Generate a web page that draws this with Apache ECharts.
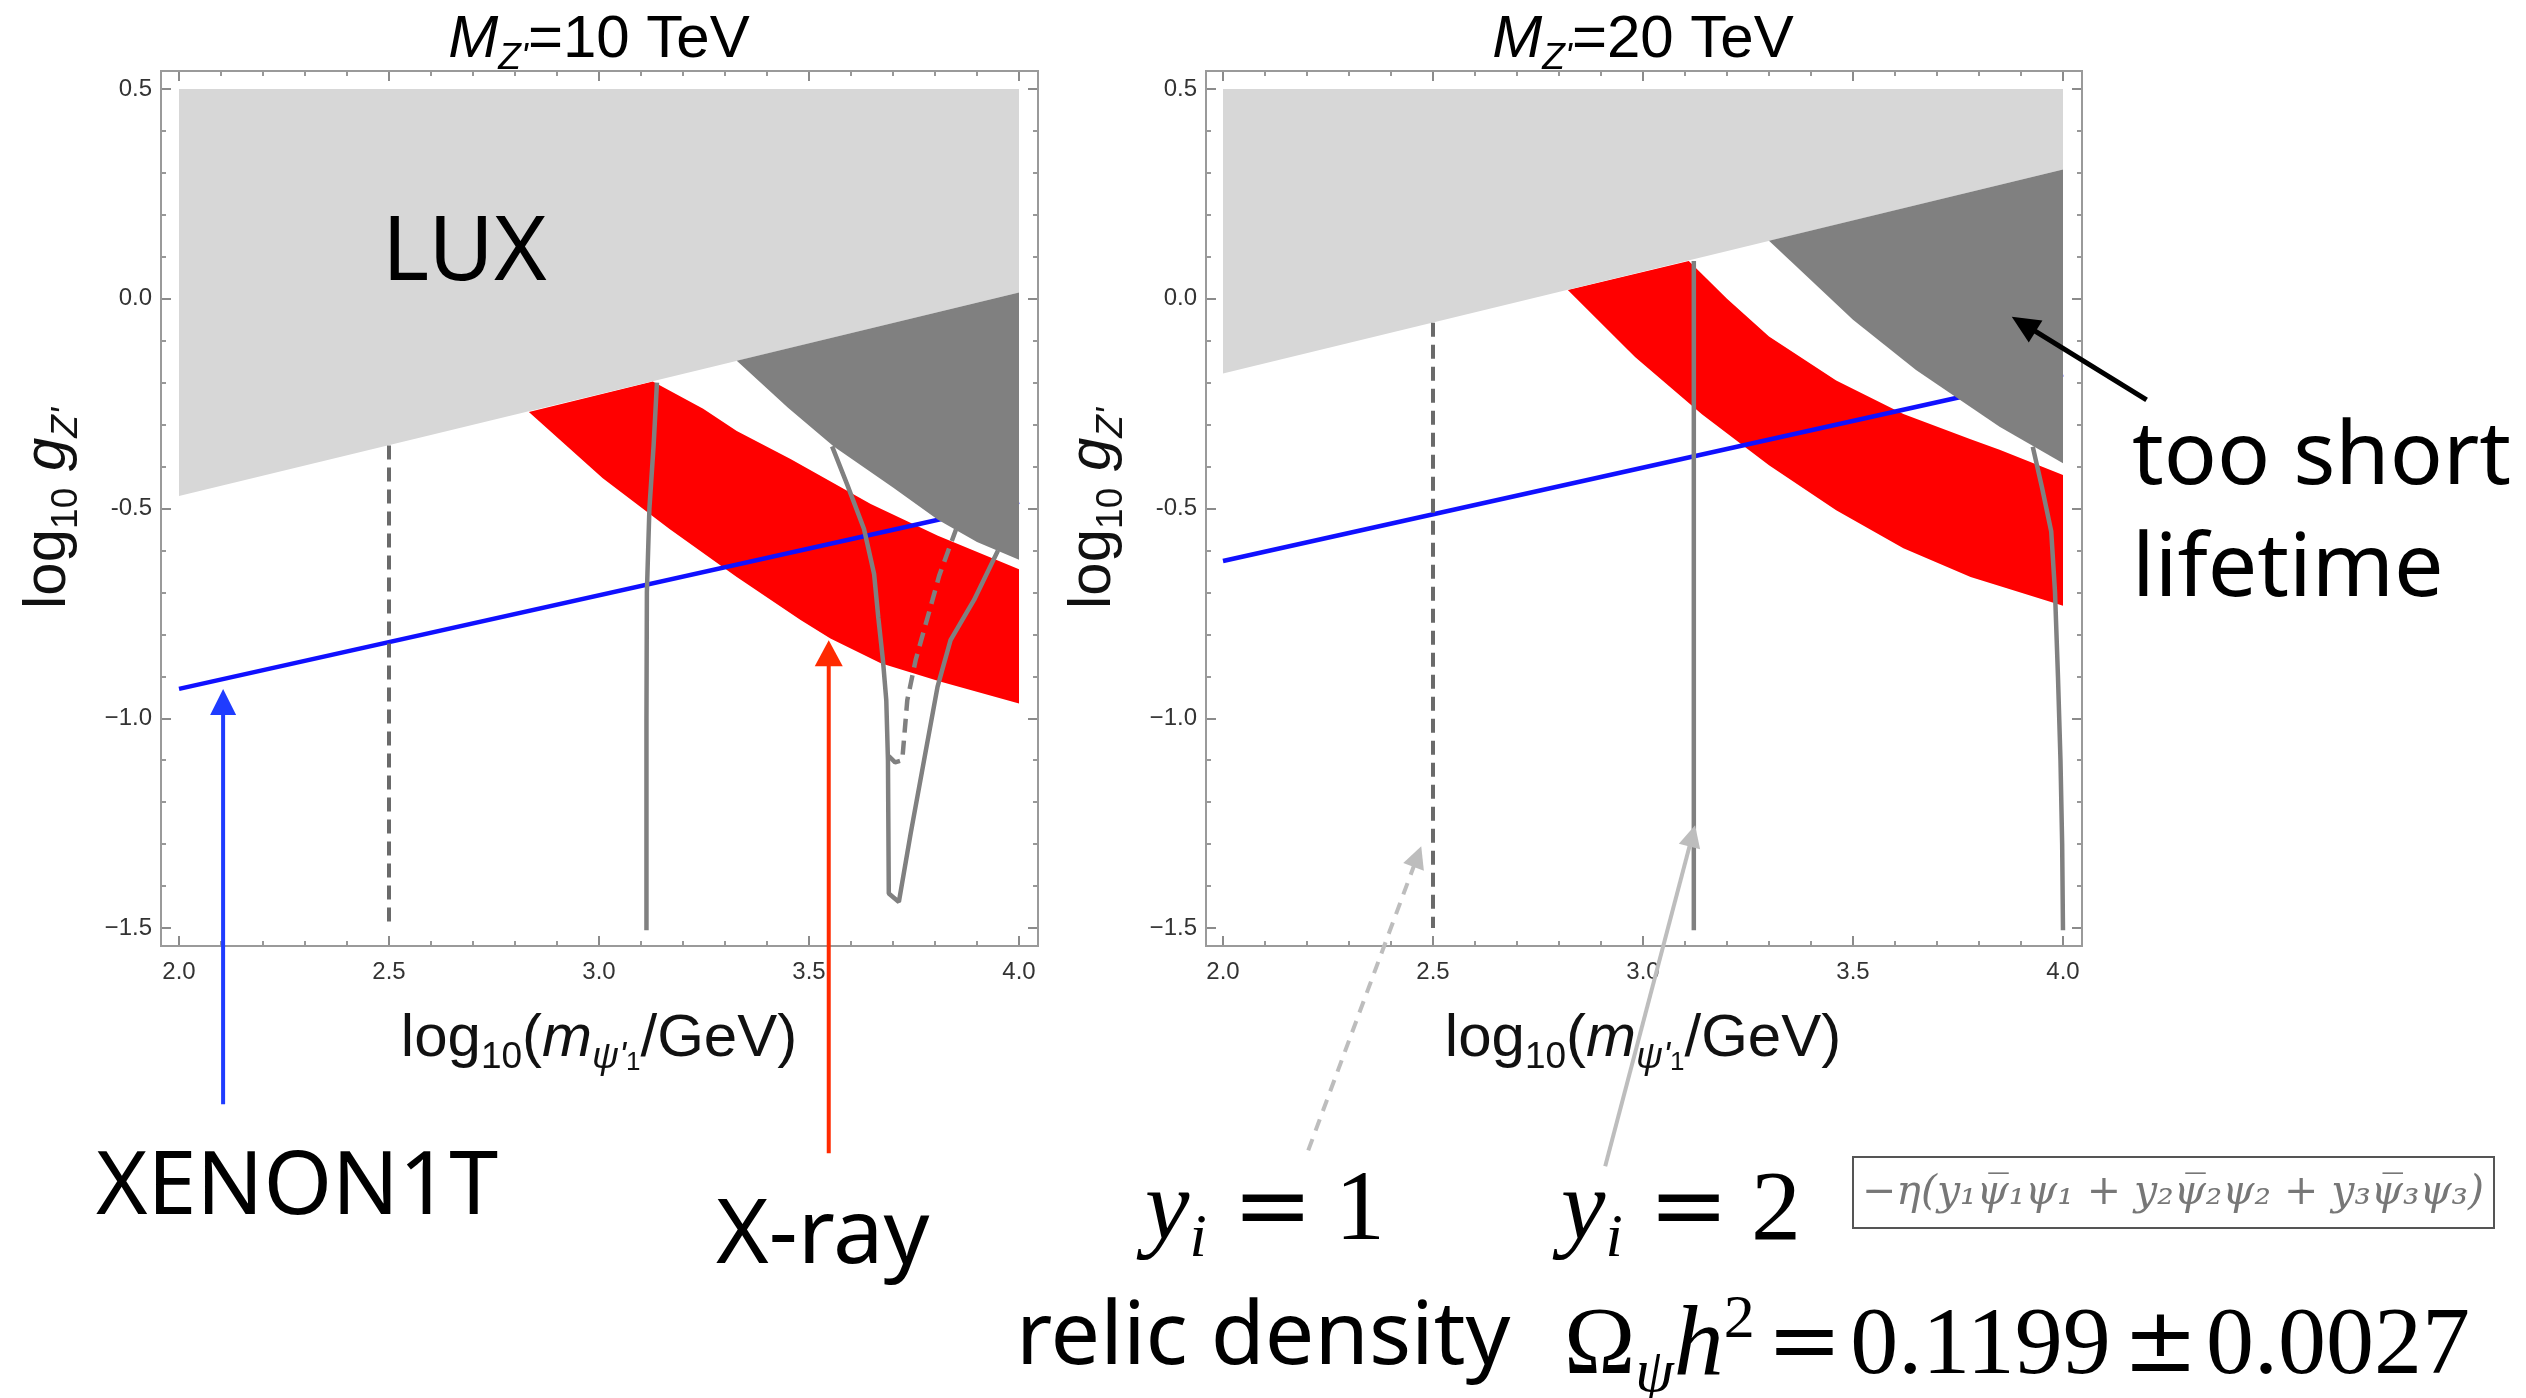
<!DOCTYPE html>
<html>
<head>
<meta charset="utf-8">
<script src="https://cdn.jsdelivr.net/npm/echarts@6/dist/echarts.min.js"></script>
<style>
html, body { margin: 0; padding: 0; background: #fff; }
#main { width: 2526px; height: 1398px; }
</style>
</head>
<body>
<div id="main"></div>
<script>
'use strict'
// tick labels
var xTicks = ['2.0', '2.5', '3.0', '3.5', '4.0'];
var yTicks = ['\u22121.5', '\u22121.0', '-0.5', '0.0', '0.5'];
var titles = ['=10 TeV', '=20 TeV'];

// ---- M_Z' = 10 TeV ----
var lux10 = [[2.0, -0.47], [4.0, 0.015]];
var redLow10 = [[2.833, -0.27], [3.009, -0.428], [3.168, -0.549], [3.328, -0.663], [3.48, -0.766],
    [3.551, -0.81], [3.671, -0.869], [3.814, -0.913], [4.0, -0.965]];
var redUp10 = [[3.128, -0.197], [3.248, -0.262], [3.328, -0.315], [3.456, -0.382], [3.647, -0.489],
    [3.807, -0.565], [4.0, -0.645]];
var short10 = [[3.328, -0.148], [3.45, -0.26], [3.559, -0.352], [3.7, -0.45], [3.807, -0.527],
    [3.9, -0.58], [4.0, -0.622]];
var xenon10 = [[2.0, -0.93], [4.0, -0.484]];
var relicY1_10 = [[2.5, -0.35], [2.5, -1.485]];
var relicY2_10 = [[3.138, -0.2], [3.13, -0.35], [3.12, -0.5], [3.114, -0.7], [3.113, -1.0], [3.113, -1.51]];
var resSolid10 = [[3.555, -0.352], [3.591, -0.443], [3.631, -0.549], [3.655, -0.656], [3.665, -0.76],
    [3.676, -0.861], [3.684, -0.957], [3.688, -1.1], [3.69, -1.418], [3.714, -1.438], [3.742, -1.275],
    [3.774, -1.1], [3.806, -0.925], [3.837, -0.814], [3.893, -0.718], [3.95, -0.6]];
var resDash10 = [[3.69, -1.09], [3.705, -1.105], [3.722, -1.1], [3.734, -0.957], [3.754, -0.861],
    [3.794, -0.718], [3.81, -0.66], [3.85, -0.55]];

// ---- M_Z' = 20 TeV ----
var lux20 = [[2.0, -0.178], [4.0, 0.308]];
var redLow20 = [[2.821, 0.021], [2.981, -0.139], [3.141, -0.276], [3.3, -0.397], [3.46, -0.504],
    [3.62, -0.595], [3.78, -0.663], [3.849, -0.685], [4.0, -0.732]];
var redUp20 = [[3.109, 0.09], [3.2, 0.0], [3.3, -0.09], [3.46, -0.195], [3.62, -0.275], [3.78, -0.335],
    [3.849, -0.36], [4.0, -0.42]];
var short20 = [[3.3, 0.138], [3.5, -0.05], [3.65, -0.17], [3.849, -0.305], [4.0, -0.392]];
var xenon20 = [[2.0, -0.625], [4.0, -0.18]];
var relicY1_20 = [[2.5, -0.057], [2.5, -1.5]];
var relicY2_20 = [[3.121, 0.09], [3.121, -1.51]];
var res20 = [[3.928, -0.353], [3.95, -0.45], [3.972, -0.555], [3.981, -0.7], [3.988, -0.9],
    [3.994, -1.1], [3.998, -1.3], [4.0, -1.51]];

// annotation arrows, in data coordinates of each panel
var arrows = [
    {grid: 0, from: [2.105, -1.92], to: [2.105, -0.93], color: '#1f3cff', width: 4, head: [26, 26]},
    {grid: 0, from: [3.547, -2.037], to: [3.547, -0.814], color: '#ff2a00', width: 4, head: [26, 28]},
    {grid: 1, from: [4.199, -0.241], to: [3.878, -0.043], color: '#000', width: 5, head: [28, 26]},
    {grid: 1, from: [2.203, -2.03], to: [2.472, -1.305], color: '#bdbdbd', width: 4, head: [22, 22], dash: true},
    {grid: 1, from: [2.91, -2.068], to: [3.124, -1.255], color: '#bdbdbd', width: 4, head: [22, 22]}
];

var grids = [
    {left: 179, top: 89, width: 840, height: 839},
    {left: 1223, top: 89, width: 840, height: 839}
];
var pads = [[18, 19, 18, 18], [17, 19, 18, 18]]; // left, right, top, bottom

var sans = '"Liberation Sans", Arial, sans-serif';
var note = '"Noto Sans", "Open Sans", sans-serif';
var serif = '"Liberation Serif", "DejaVu Serif", serif';

var labRich = {
    n: {fontFamily: sans, fontSize: 60, color: '#111', lineHeight: 74},
    i: {fontFamily: sans, fontSize: 60, fontStyle: 'italic', color: '#111', lineHeight: 74},
    s: {fontFamily: sans, fontSize: 37, color: '#111', verticalAlign: 'bottom', lineHeight: 37},
    si: {fontFamily: sans, fontSize: 37, fontStyle: 'italic', color: '#111', verticalAlign: 'bottom', lineHeight: 37},
    ss: {fontFamily: sans, fontSize: 26, color: '#111', verticalAlign: 'bottom', lineHeight: 20}
};

function tickStyle() {
    return {
        axisLine: {show: false, onZero: false},
        axisTick: {show: true, inside: true, length: 10, lineStyle: {color: '#666', width: 1.5}},
        minorTick: {show: true, splitNumber: 5, length: 5, lineStyle: {color: '#777', width: 1.5}},
        splitLine: {show: false},
        minorSplitLine: {show: false}
    };
}

var xAxes = [], yAxes = [];
grids.forEach(function (g, gi) {
    var pd = pads[gi];
    var bx = Object.assign({
        type: 'value', gridIndex: gi, position: 'bottom', min: 2, max: 4, interval: 0.5, offset: pd[3],
        axisLabel: {show: true, margin: 14, fontSize: 24, color: '#333', fontFamily: sans,
            formatter: function (v) { return xTicks[Math.round((v - 2) / 0.5)]; }},
        name: '{n|log}{s|10}{n|(}{i|m}{si|\u03c8\'}{ss|1}{n|/GeV)}',
        nameLocation: 'middle', nameGap: 56,
        nameTextStyle: {rich: labRich}
    }, tickStyle());
    var tx = Object.assign({
        type: 'value', gridIndex: gi, position: 'top', min: 2, max: 4, interval: 0.5, offset: pd[2],
        axisLabel: {show: false}
    }, tickStyle());
    var ly = Object.assign({
        type: 'value', gridIndex: gi, position: 'left', min: -1.5, max: 0.5, interval: 0.5, offset: pd[0],
        axisLabel: {show: true, margin: 9, fontSize: 24, color: '#333', fontFamily: sans,
            formatter: function (v) { return yTicks[Math.round((v + 1.5) / 0.5)]; }},
        name: '{n|log}{s|10}{n| }{i|g}{si|Z\'}',
        nameLocation: 'middle', nameGap: 76, nameRotate: 90,
        nameTextStyle: {rich: labRich}
    }, tickStyle());
    var ry = Object.assign({
        type: 'value', gridIndex: gi, position: 'right', min: -1.5, max: 0.5, interval: 0.5, offset: pd[1],
        axisLabel: {show: false}
    }, tickStyle());
    xAxes.push(bx, tx);
    yAxes.push(ly, ry);
});

function polySeries(pts, color, gi, z) {
    return {
        type: 'custom', xAxisIndex: gi * 2, yAxisIndex: gi * 2, z: z, silent: true,
        data: pts, encode: {x: 0, y: 1},
        renderItem: function (params, api) {
            if (params.dataIndex !== 0) return;
            return {
                type: 'polygon',
                shape: {points: pts.map(function (p) { return api.coord(p); })},
                style: {fill: color}
            };
        }
    };
}

function lineSeries(pts, color, w, dashed, gi, z) {
    return {
        type: 'line', xAxisIndex: gi * 2, yAxisIndex: gi * 2, z: z, silent: true,
        data: pts, showSymbol: false, symbol: 'none',
        lineStyle: {color: color, width: w, type: dashed ? [14, 8] : 'solid'}
    };
}

function panelSeries(gi, lux, redLow, redUp, shortEdge, xenon) {
    var luxPoly = [[2.0, 0.5], [4.0, 0.5], lux[1], lux[0]];
    var redPoly = redLow.concat(redUp.slice().reverse());
    var shortPoly = [[4.0, lux[1][1]]].concat(shortEdge);
    return [
        polySeries(redPoly, '#ff0000', gi, 1),
        polySeries(luxPoly, '#d7d7d7', gi, 1),
        lineSeries(xenon, '#1010ff', 4.5, false, gi, 2),
        polySeries(shortPoly, '#808080', gi, 3)
    ];
}

var series = []
    .concat(panelSeries(0, lux10, redLow10, redUp10, short10, xenon10))
    .concat(panelSeries(1, lux20, redLow20, redUp20, short20, xenon20))
    .concat([
        lineSeries(relicY1_10, '#6a6a6a', 4, true, 0, 4),
        lineSeries(relicY2_10, '#808080', 4.5, false, 0, 4),
        lineSeries(resSolid10, '#808080', 4.5, false, 0, 4),
        lineSeries(resDash10, '#808080', 4.5, true, 0, 4),
        lineSeries(relicY1_20, '#6a6a6a', 4, true, 1, 4),
        lineSeries(relicY2_20, '#808080', 4.5, false, 1, 4),
        lineSeries(res20, '#808080', 4.5, false, 1, 4)
    ]);

var chart = echarts.init(document.getElementById('main'), null, {renderer: 'canvas'});
chart.setOption({
    backgroundColor: '#fff',
    animation: false,
    grid: grids.map(function (g) {
        return Object.assign({outerBoundsMode: 'none', containLabel: false}, g);
    }),
    xAxis: xAxes,
    yAxis: yAxes,
    series: series
});

// frames, titles, annotations
var elements = [];
grids.forEach(function (g, gi) {
    var pd = pads[gi];
    elements.push({
        type: 'rect', z: 50, silent: true,
        shape: {x: g.left - pd[0], y: g.top - pd[2], width: g.width + pd[0] + pd[1], height: g.height + pd[2] + pd[3]},
        style: {fill: null, stroke: '#9a9a9a', lineWidth: 2}
    });
    elements.push({
        type: 'text', z: 50, silent: true,
        style: {
            x: g.left + g.width / 2, y: 40, text: '{i|M}{si|Z\'}{n|' + titles[gi] + '}', rich: labRich,
            align: 'center', textAlign: 'center', verticalAlign: 'middle', textVerticalAlign: 'middle'
        }
    });
});

function addText(str, x, y, font, color) {
    elements.push({
        type: 'text', z: 60, silent: true,
        style: {x: x, y: y, text: str, font: font, fill: color,
            verticalAlign: 'middle', textVerticalAlign: 'middle'}
    });
}
addText('LUX', 382, 254, '90px ' + note, '#000');
addText('XENON1T', 96, 1189, '88px ' + note, '#000');
addText('X-ray', 716, 1237, '90px ' + note, '#000');
addText('too short', 2132, 459, '88px ' + note, '#000');
addText('lifetime', 2132, 571, '88px ' + note, '#000');
addText('relic density', 1016, 1339, '88px ' + note, '#000');

var mathRich = {
    a: {fontFamily: serif, fontSize: 100, fontStyle: 'italic', color: '#111', lineHeight: 116},
    b: {fontFamily: serif, fontSize: 62, fontStyle: 'italic', color: '#111', verticalAlign: 'bottom', lineHeight: 62},
    c: {fontFamily: serif, fontSize: 100, color: '#111', lineHeight: 116},
    c2: {fontFamily: serif, fontSize: 96, color: '#222', lineHeight: 116},
    e: {fontFamily: '"DejaVu Serif", serif', fontSize: 96, color: '#111', lineHeight: 116, padding: [0, 22, 0, 26]},
    e2: {fontFamily: '"DejaVu Serif", serif', fontSize: 90, color: '#222', lineHeight: 116, padding: [0, 8, 0, 12]},
    p: {fontFamily: serif, fontSize: 62, color: '#111', verticalAlign: 'top', lineHeight: 62}
};
function addMath(str, x, y) {
    elements.push({
        type: 'text', z: 60, silent: true,
        style: {x: x, y: y, text: str, rich: mathRich, verticalAlign: 'middle', textVerticalAlign: 'middle'}
    });
}
addMath('{a|y}{b|i}{e|=}{c|1}', 1145, 1213);
addMath('{a|y}{b|i}{e|=}{c|2}', 1561, 1213);
addMath('{c2|\u03a9}{b|\u03c8}{a|h}{p|2}{e2|=}{c2|0.1199}{e2|\u00b1}{c2|0.0027}', 1564, 1348);

elements.push({
    type: 'rect', z: 60, silent: true,
    shape: {x: 1853, y: 1157, width: 641, height: 71},
    style: {fill: null, stroke: '#555', lineWidth: 2}
});
elements.push({
    type: 'text', z: 60, silent: true,
    style: {
        x: 2173, y: 1193, text: '\u2212\u03b7(y\u2081\u03c8\u0305\u2081\u03c8\u2081 + y\u2082\u03c8\u0305\u2082\u03c8\u2082 + y\u2083\u03c8\u0305\u2083\u03c8\u2083)',
        font: 'italic 41px "DejaVu Serif", serif', fill: '#777',
        align: 'center', textAlign: 'center', verticalAlign: 'middle', textVerticalAlign: 'middle'
    }
});

arrows.forEach(function (a) {
    var p0 = chart.convertToPixel({gridIndex: a.grid}, a.from);
    var p1 = chart.convertToPixel({gridIndex: a.grid}, a.to);
    var dx = p1[0] - p0[0], dy = p1[1] - p0[1];
    var len = Math.sqrt(dx * dx + dy * dy), ux = dx / len, uy = dy / len;
    var hl = a.head[0], hw = a.head[1];
    var bx = p1[0] - ux * hl, by = p1[1] - uy * hl;
    elements.push({
        type: 'line', z: 70, silent: true,
        shape: {x1: p0[0], y1: p0[1], x2: bx + ux * 2, y2: by + uy * 2},
        style: {stroke: a.color, lineWidth: a.width, lineDash: a.dash ? [12, 9] : null}
    });
    elements.push({
        type: 'polygon', z: 70, silent: true,
        shape: {points: [[p1[0], p1[1]], [bx - uy * hw / 2, by + ux * hw / 2], [bx + uy * hw / 2, by - ux * hw / 2]]},
        style: {fill: a.color}
    });
});

chart.setOption({graphic: {elements: elements}});
</script>
</body>
</html>
